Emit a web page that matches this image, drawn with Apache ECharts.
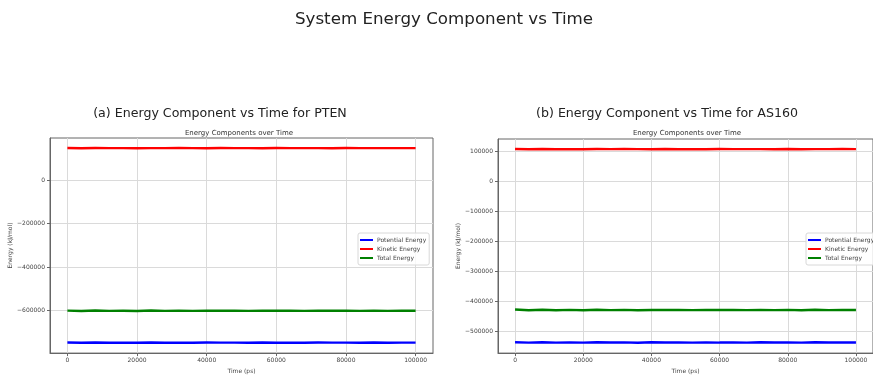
<!DOCTYPE html>
<html><head><meta charset="utf-8">
<script src="https://cdn.jsdelivr.net/npm/echarts@6/dist/echarts.min.js"></script>
<style>html,body{margin:0;padding:0;background:#fff}#c{width:873px;height:379px}</style>
</head><body><div id="c"></div>
<script>
const timePs = [0,4000,8000,12000,16000,20000,24000,28000,32000,36000,40000,44000,48000,52000,56000,60000,64000,68000,72000,76000,80000,84000,88000,92000,96000,100000];
const ptenPotential = [-746500,-747800,-746200,-747400,-746900,-747600,-746300,-747200,-746800,-747700,-746400,-747100,-746700,-747500,-746600,-747300,-746900,-747800,-746500,-747000,-746700,-747400,-746300,-747200,-746800,-747100];
const ptenKinetic = [146800,146200,146900,146400,146600,146100,146700,146300,146900,146500,146200,146800,146400,146600,146100,146900,146300,146700,146500,146200,146800,146400,146600,146300,146700,146500];
const ptenTotal = [-599700,-601600,-599300,-601000,-600300,-601500,-599600,-600900,-599900,-601200,-600200,-600300,-600300,-600900,-600500,-600400,-600600,-601100,-600000,-600800,-599900,-601000,-599700,-600900,-600100,-600600];
const as160Potential = [-536000,-537200,-535800,-536900,-536300,-537100,-535900,-536800,-536400,-537300,-536000,-536700,-536200,-537000,-536100,-536900,-536500,-537200,-536000,-536600,-536300,-537000,-535900,-536800,-536400,-536700];
const as160Kinetic = [108500,107900,108600,108000,108400,107800,108500,108100,108600,108200,107900,108500,108000,108400,107900,108600,108100,108400,108200,107900,108500,108000,108400,108100,108500,108200];
const as160Total = [-426500,-429300,-427200,-428900,-427900,-429300,-427400,-428700,-427800,-429100,-428100,-428200,-428200,-428600,-428200,-428300,-428400,-428800,-427800,-428700,-427800,-429000,-427500,-428700,-427900,-428500];
const xTicks = [0,20000,40000,60000,80000,100000];
const ptenYTicks = [-600000,-400000,-200000,0];
const as160YTicks = [-500000,-400000,-300000,-200000,-100000,0,100000];
const seriesNames = ['Potential Energy','Kinetic Energy','Total Energy'];
const colors = ['#0000ff','#ff0000','#008000'];

const FONT = 'DejaVu Sans';
const fmt = v => (v < 0 ? '\u2212' + Math.abs(v) : String(v));
const pair = (xs, ys) => xs.map((x, i) => [x, ys[i]]);

function xAxis(gi){
  return {type:'value', gridIndex:gi, min:-5000, max:105000,
    name:'Time (ps)', nameLocation:'middle', nameGap:12,
    nameTextStyle:{fontFamily:FONT,fontSize:6,color:'#444'},
    axisLine:{show:true,onZero:false,lineStyle:{color:'#666',width:1}},
    axisTick:{show:true,length:3,customValues:xTicks,lineStyle:{color:'#666'}},
    axisLabel:{customValues:xTicks,margin:4,fontFamily:FONT,fontSize:6,color:'#444',formatter:fmt},
    splitLine:{show:true,lineStyle:{color:'#dadada',width:1}}};
}
function yAxis(gi,min,max,ticks){
  return {type:'value', gridIndex:gi, min:min, max:max,
    name:'Energy (kJ/mol)', nameLocation:'middle', nameGap:34,
    nameTextStyle:{fontFamily:FONT,fontSize:6,color:'#444'},
    axisLine:{show:true,onZero:false,lineStyle:{color:'#666',width:1}},
    axisTick:{show:true,length:3,customValues:ticks,lineStyle:{color:'#666'}},
    axisLabel:{customValues:ticks,margin:5,fontFamily:FONT,fontSize:6,color:'#444',formatter:fmt},
    splitLine:{show:true,lineStyle:{color:'#dadada',width:1}}};
}
function legend(left){
  return {show:true, orient:'vertical', left:left, top:233, data:seriesNames,
    icon:'rect', itemWidth:13, itemHeight:2, itemGap:1,
    padding:[3,3,3,2], backgroundColor:'rgba(255,255,255,0.8)',
    borderColor:'#d8d8d8', borderWidth:1, borderRadius:2,
    textStyle:{fontFamily:FONT,fontSize:6,color:'#444',lineHeight:8,padding:[0,0,0,-1]}, selectedMode:false};
}
function lines(gi, data){
  return data.map((d,i)=>({name:seriesNames[i], type:'line', xAxisIndex:gi, yAxisIndex:gi,
    data:pair(timePs,d), showSymbol:false, symbol:'none', color:colors[i],
    lineStyle:{color:colors[i],width:2.4}, animation:false}));
}
function ttl(text, cx, top, size, color){
  return {text:text, left:cx, textAlign:'center', top:top, padding:0,
    textStyle:{fontFamily:FONT,fontSize:size,fontWeight:'normal',color:color}};
}

const chart = echarts.init(document.getElementById('c'), null, {renderer:'canvas'});
chart.setOption({
  animation:false,
  backgroundColor:'#ffffff',
  title:[
    ttl('System Energy Component vs Time', 444, 11, 16.7, '#222'),
    ttl('(a) Energy Component vs Time for PTEN', 220, 107, 12.6, '#222'),
    ttl('(b) Energy Component vs Time for AS160', 667, 107, 12.6, '#222'),
    ttl('Energy Components over Time', 239, 130, 7, '#333'),
    ttl('Energy Components over Time', 687, 130, 7, '#333')
  ],
  grid:[
    {left:50, top:138, width:383, height:221, show:true, borderColor:'#666', borderWidth:1, backgroundColor:'transparent'},
    {left:498, top:139, width:382, height:220, show:true, borderColor:'#666', borderWidth:1, backgroundColor:'transparent'}
  ],
  xAxis:[xAxis(0), xAxis(1)],
  yAxis:[yAxis(0,-795000,193000,ptenYTicks), yAxis(1,-572000,142000,as160YTicks)],
  legend:[legend(358), legend(806)],
  series:[].concat(lines(0,[ptenPotential,ptenKinetic,ptenTotal]), lines(1,[as160Potential,as160Kinetic,as160Total]))
});
</script></body></html>
